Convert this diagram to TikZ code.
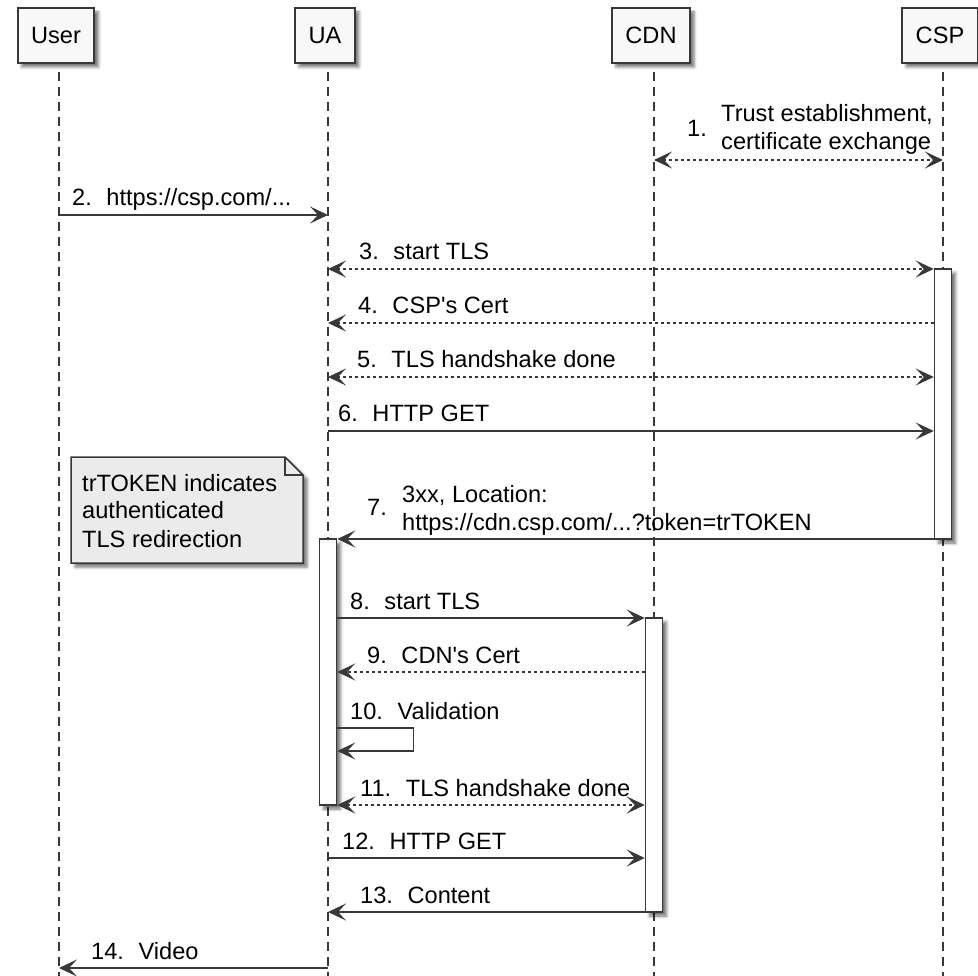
\documentclass[tikz,border=0pt]{standalone}
\usepackage{fontspec}
\setmainfont{Liberation Sans}
\usepackage{xcolor}
\usetikzlibrary{arrows.meta}
\usetikzlibrary{shadows.blur}

\definecolor{linegray}{HTML}{383838}
\definecolor{boxfill}{HTML}{F8F8F8}
\definecolor{notefill}{HTML}{EBEBEB}

\newcommand{\stepno}[1]{#1\hspace{0.62em}}

\begin{document}
\begin{tikzpicture}[x=1pt, y=-1pt,
    font=\fontsize{23.6}{28}\selectfont,
    >={Stealth[length=18pt, width=17pt, inset=8pt]},
    shade/.style={blur shadow={shadow xshift=4pt, shadow yshift=-4pt,
        shadow blur radius=3pt, shadow opacity=55}},
    party/.style={draw=linegray, line width=2pt, fill=boxfill, shade,
        minimum height=55pt, inner xsep=13.5pt},
    lifeline/.style={draw=linegray, line width=1.2pt, dash pattern=on 9pt off 6pt},
    actbar/.style={draw=linegray, line width=1.5pt, fill=white, shade,
        minimum width=17pt, inner sep=0pt},
    msg/.style={draw=linegray, line width=1.5pt, ->},
    reply/.style={msg, dash pattern=on 3pt off 3pt},
    both/.style={reply, <->},
    lbl/.style={anchor=base west, inner sep=0pt}]
    \useasboundingbox (0,0) rectangle (978,976);

    % Participants
    \node[party] (user) at (56,35.5) {User};
    \node[party] (ua) at (325,35.5) {UA};
    \node[party] (cdn) at (651,35.5) {CDN};
    \node[party] (csp) at (940,35.5) {CSP};

    % Lifelines
    \coordinate (userend) at (59,976);
    \coordinate (uaend) at (328,976);
    \coordinate (cdnend) at (654,976);
    \coordinate (cspend) at (943,976);
    \draw[lifeline] ([yshift=-8pt]user.south -| userend) -- (userend);
    \draw[lifeline] ([yshift=-8pt]ua.south -| uaend) -- (uaend);
    \draw[lifeline] ([yshift=-8pt]cdn.south -| cdnend) -- (cdnend);
    \draw[lifeline] ([yshift=-8pt]csp.south -| cspend) -- (cspend);

    % Activations
    \node[actbar, minimum height=270pt] (cspbar) at (943,404) {};
    \node[actbar, minimum height=266pt] (uabar) at (328,672) {};
    \node[actbar, minimum height=294pt] (cdnbar) at (654,765) {};

    % Message rows
    \coordinate (r1) at (0,160);
    \coordinate (r2) at (0,215);
    \coordinate (r3) at (0,269);
    \coordinate (r4) at (0,323);
    \coordinate (r5) at (0,377);
    \coordinate (r6) at (0,431);
    \coordinate (r7) at (0,539);
    \coordinate (r8) at (0,618);
    \coordinate (r9) at (0,672);
    \coordinate (r10) at (0,728);
    \coordinate (r10b) at (0,751);
    \coordinate (r11) at (0,805);
    \coordinate (r12) at (0,858);
    \coordinate (r13) at (0,912);
    \coordinate (r14) at (0,968);

    % Trust between CDN and CSP
    \draw[both] (cdnend |- r1) -- (cspend |- r1);
    \node[lbl] (n1) at (687,137) {1.};
    \node[lbl] (l1) at (721,150) {\begin{tabular}[b]{@{}l@{}}Trust establishment,\\certificate exchange\end{tabular}};

    % Request to CSP
    \draw[msg] (userend |- r2) -- (uaend |- r2);
    \node[lbl] (l2) at (72,206) {\stepno{2.}https://csp.com/...};
    \draw[both] (uaend |- r3) -- (cspbar.west |- r3);
    \node[lbl] (l3) at (359,260) {\stepno{3.}start TLS};
    \draw[reply] (cspbar.west |- r4) -- (uaend |- r4);
    \node[lbl] (l4) at (358,314) {\stepno{4.}CSP\textquotesingle s Cert};
    \draw[both] (uaend |- r5) -- (cspbar.west |- r5);
    \node[lbl] (l5) at (357,368) {\stepno{5.}TLS handshake done};
    \draw[msg] (uaend |- r6) -- (cspbar.west |- r6);
    \node[lbl] (l6) at (338,422) {\stepno{6.}HTTP GET};

    % Redirection
    \draw[msg] (cspbar.west |- r7) -- (uabar.east |- r7);
    \node[lbl] (n7) at (367,515) {7.};
    \node[lbl] (l7) at (402,530) {\begin{tabular}[b]{@{}l@{}}3xx, Location:\\https://cdn.csp.com/...?token=trTOKEN\end{tabular}};

    % Note
    \filldraw[draw=linegray, line width=1.5pt, fill=notefill, shade]
        (71,457) -- (285,457) -- (303,475) -- (303,563) -- (71,563) -- cycle;
    \draw[linegray, line width=1.5pt] (285,457) |- (303,475);
    \node[lbl] (note) at (82,491) {\begin{tabular}[t]{@{}l@{}}trTOKEN indicates\\authenticated\\TLS redirection\end{tabular}};

    % TLS with CDN
    \draw[msg] (uabar.east |- r8) -- (cdnbar.west |- r8);
    \node[lbl] (l8) at (350,609) {\stepno{8.}start TLS};
    \draw[reply] (cdnbar.west |- r9) -- (uabar.east |- r9);
    \node[lbl] (l9) at (367,663) {\stepno{9.}CDN\textquotesingle s Cert};
    \draw[msg] (uabar.east |- r10) -- ++(76,0) |- (uabar.east |- r10b);
    \node[lbl] (l10) at (350,719) {\stepno{10.}Validation};
    \draw[both] (uabar.east |- r11) -- (cdnbar.west |- r11);
    \node[lbl] (l11) at (360,796) {\stepno{11.}TLS handshake done};

    % Content
    \draw[msg] (uaend |- r12) -- (cdnbar.west |- r12);
    \node[lbl] (l12) at (342,849) {\stepno{12.}HTTP GET};
    \draw[msg] (cdnbar.west |- r13) -- (uaend |- r13);
    \node[lbl] (l13) at (360,903) {\stepno{13.}Content};
    \draw[msg] (uaend |- r14) -- (userend |- r14);
    \node[lbl] (l14) at (91,959) {\stepno{14.}Video};
\end{tikzpicture}
\end{document}
